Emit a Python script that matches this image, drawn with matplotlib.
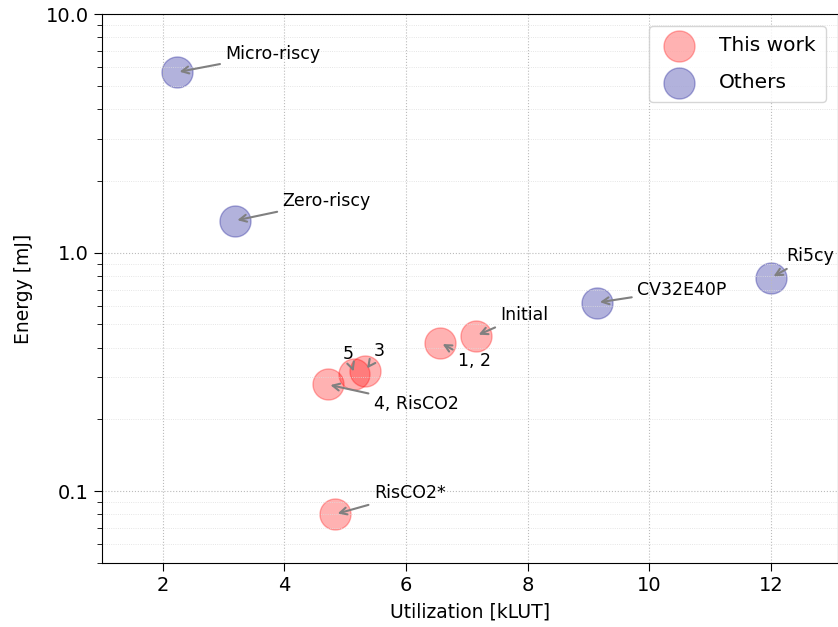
import matplotlib.pyplot as plt
from matplotlib.ticker import FormatStrFormatter

# this work
ours_names = ['Initial', '1, 2', '3', '5', '4, RisCO2', 'RisCO2*']
ours_klut = [7.15, 6.56, 5.33, 5.15, 4.71, 4.83]
ours_energy = [0.448, 0.419, 0.32, 0.31, 0.28, 0.08]
ours_text = [(7.55, 0.55), (6.85, 0.35), (5.47, 0.385), (4.95, 0.375), (5.47, 0.232), (5.47, 0.098)]

# others
oth_names = ['Micro-riscy', 'Zero-riscy', 'CV32E40P', 'Ri5cy']
oth_klut = [2.23, 3.18, 9.14, 12.0]
oth_energy = [5.7, 1.36, 0.617, 0.785]
oth_text = [(3.03, 6.8), (3.97, 1.64), (9.8, 0.70), (12.25, 0.97)]

fig = plt.figure(figsize=(8.38, 6.27), dpi=100)
ax = fig.add_axes([102/838, 64/627, 736/838, 549/627])

ax.scatter(ours_klut, ours_energy, s=500, color='red', alpha=0.3, label='This work')
ax.scatter(oth_klut, oth_energy, s=500, color='darkblue', alpha=0.3, label='Others')

for name, x, y, t in zip(ours_names + oth_names, ours_klut + oth_klut,
                         ours_energy + oth_energy, ours_text + oth_text):
    ax.annotate(name, xy=(x, y), xytext=t, fontsize=12.5, ha='left', va='center',
                arrowprops=dict(arrowstyle='->', color='gray', lw=1.5))

ax.set_yscale('log')
ax.set_xlim(1, 13.1)
ax.set_ylim(0.05, 10)
ax.set_xticks([2, 4, 6, 8, 10, 12])
ax.yaxis.set_major_formatter(FormatStrFormatter('%.1f'))
ax.tick_params(labelsize=14, length=6)
ax.tick_params(which='minor', length=3.5)
ax.grid(True, which='major', linestyle=':', linewidth=0.8, color='#bbbbbb')
ax.grid(True, which='minor', axis='y', linestyle=':', linewidth=0.6, color='#dddddd')
ax.set_xlabel('Utilization [kLUT]', fontsize=13.5, labelpad=5.5)
ax.set_ylabel('Energy [mJ]', fontsize=13.5, labelpad=9)
ax.legend(loc='upper right', fontsize=14.5, labelspacing=0.9, borderpad=0.5,
          handletextpad=1.0, borderaxespad=0.6)

fig.savefig('out.png', dpi=100)
